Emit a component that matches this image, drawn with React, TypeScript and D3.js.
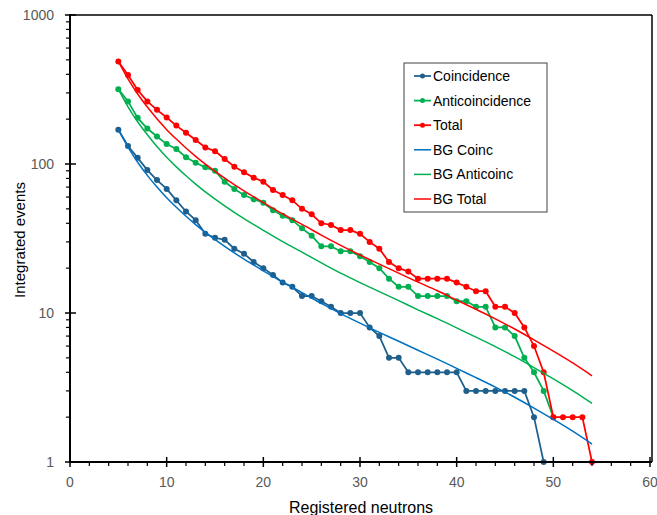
import React from "react";
import * as d3 from "d3";

const NEUTRONS = [5,6,7,8,9,10,11,12,13,14,15,16,17,18,19,20,21,22,23,24,25,26,27,28,29,30,31,32,33,34,35,36,37,38,39,40,41,42,43,44,45,46,47,48,49,50,51,52,53,54];

const COINCIDENCE = [170,132,110,91,78,68,57,48,42,34,32,31,27,25,22,20,18,16,15,13,13,12,11,10,10,10,8,7,5,5,4,4,4,4,4,4,3,3,3,3,3,3,3,2,1];
const ANTICOINCIDENCE = [318,263,204,173,153,136,126,111,102,95,90,76,68,62,58,55,49,45,42,37,33,28,28,26,26,24,22,20,17,15,15,13,13,13,13,12,12,11,11,8,8,7,5,4,3,2];
const TOTAL = [488,396,314,263,231,205,181,162,145,129,122,108,96,88,81,76,67,62,57,50,46,40,39,36,36,34,30,27,22,20,19,17,17,17,17,16,15,14,14,11,11,10,8,6,4,2,2,2,2,1];

const BG_X = [5,6,7,8,9,10,11,12,13,14,16,18,20,22,24,26,28,30,32,34,36,38,40,42,44,46,48,50,52,54];
const BG_COINC = [170,129.6,102.8,83.9,70.0,59.4,51.2,44.6,39.2,34.8,28.0,23.0,19.2,16.1,13.7,11.6,9.91,8.55,7.41,6.46,5.62,4.90,4.25,3.68,3.18,2.72,2.30,1.93,1.61,1.32];
const BG_ANTICOINC = [318,242,192,157,131,111,95.7,83.4,73.3,65.1,52.4,43.0,35.9,30.1,25.6,21.7,18.5,16.0,13.9,12.1,10.5,9.16,7.95,6.88,5.95,5.09,4.30,3.61,3.01,2.47];
const BG_TOTAL = [488,372,295,241,201,170,147,128,112.5,99.9,80.4,66.0,55.1,46.2,39.3,33.3,28.4,24.5,21.3,18.5,16.1,14.1,12.2,10.6,9.13,7.81,6.60,5.54,4.62,3.79];

const X_TICKS = [0,10,20,30,40,50,60];
const X_MINOR = [2,4,6,8,12,14,16,18,22,24,26,28,32,34,36,38,42,44,46,48,52,54,56,58];
const Y_TICKS = [1,10,100,1000];

const LEGEND = [
  { name: "Coincidence", color: "#1f5f8c", marker: true },
  { name: "Anticoincidence", color: "#00b050", marker: true },
  { name: "Total", color: "#ff0000", marker: true },
  { name: "BG Coinc", color: "#0070c0", marker: false },
  { name: "BG Anticoinc", color: "#00b050", marker: false },
  { name: "BG Total", color: "#ff0000", marker: false },
];

const FONT = "'Liberation Sans', Arial, sans-serif";

export default function App() {
  const x = d3.scaleLinear().domain([0, 60]).range([70, 650]);
  const y = d3.scaleLog().domain([1, 1000]).range([462, 15]);

  const dataLine = d3.line<[number, number]>().x(d => x(d[0])).y(d => y(d[1]));
  const bgLine = d3.line<[number, number]>().x(d => x(d[0])).y(d => y(d[1])).curve(d3.curveNatural);

  const series = [
    { vals: COINCIDENCE, color: LEGEND[0].color },
    { vals: ANTICOINCIDENCE, color: LEGEND[1].color },
    { vals: TOTAL, color: LEGEND[2].color },
  ].map(s => ({ ...s, pts: s.vals.map((v, i) => [NEUTRONS[i], v] as [number, number]) }));

  const bgs = [
    { vals: BG_COINC, color: LEGEND[3].color },
    { vals: BG_ANTICOINC, color: LEGEND[4].color },
    { vals: BG_TOTAL, color: LEGEND[5].color },
  ].map(s => ({ ...s, pts: s.vals.map((v, i) => [BG_X[i], v] as [number, number]) }));

  const yMinor: number[] = [];
  [1, 10, 100].forEach(d => { for (let k = 2; k <= 9; k++) yMinor.push(d * k); });

  const lx = 404, ly = 63;

  return (
    <svg width={657} height={515} style={{ position: "absolute", left: 0, top: 0, background: "#fff" }} fontFamily={FONT}>
      <rect x={0} y={0} width={657} height={515} fill="#fff" />
      {/* frame */}
      <line x1={70} x2={652} y1={15} y2={15} stroke="#000" strokeWidth={1.5} />
      <line x1={652} x2={652} y1={15} y2={462} stroke="#000" strokeWidth={1.5} />

      {/* series */}
      {series.map((s, i) => (
        <g key={"s" + i}>
          <path d={dataLine(s.pts) || ""} fill="none" stroke={s.color} strokeWidth={1.75} />
          {s.pts.map((p, j) => (
            <circle key={j} cx={x(p[0])} cy={y(p[1])} r={3} fill={s.color} />
          ))}
        </g>
      ))}
      {bgs.map((s, i) => (
        <path key={"b" + i} d={bgLine(s.pts) || ""} fill="none" stroke={s.color} strokeWidth={1.5} />
      ))}

      {/* axes */}
      <line x1={70} x2={70} y1={14} y2={463} stroke="#000" strokeWidth={2} />
      <line x1={69} x2={652} y1={462} y2={462} stroke="#000" strokeWidth={2} />
      {X_TICKS.map(t => (
        <g key={"xt" + t}>
          <line x1={x(t)} x2={x(t)} y1={457} y2={467} stroke="#000" strokeWidth={1.5} />
          <text x={x(t)} y={487} textAnchor="middle" fontSize={14} fill="#595959">{t}</text>
        </g>
      ))}
      {X_MINOR.map(t => (
        <line key={"xm" + t} x1={x(t)} x2={x(t)} y1={462} y2={466} stroke="#000" strokeWidth={1.2} />
      ))}
      {Y_TICKS.map(t => (
        <g key={"yt" + t}>
          <line x1={65} x2={76} y1={y(t)} y2={y(t)} stroke="#000" strokeWidth={1.5} />
          <text x={54} y={y(t) + 5} textAnchor="end" fontSize={14} fill="#595959">{t}</text>
        </g>
      ))}
      {yMinor.map(t => (
        <line key={"ym" + t} x1={66} x2={70} y1={y(t)} y2={y(t)} stroke="#000" strokeWidth={1.2} />
      ))}

      {/* titles */}
      <text x={361} y={513} textAnchor="middle" fontSize={16} fill="#000">Registered neutrons</text>
      <text transform="translate(25,240) rotate(-90)" textAnchor="middle" fontSize={15} fill="#000">Integrated events</text>

      {/* legend */}
      <rect x={lx} y={ly} width={143} height={149} fill="#fff" stroke="#404040" strokeWidth={1} />
      {LEGEND.map((l, i) => {
        const cy = 76 + i * 24.6;
        return (
          <g key={"l" + i}>
            <line x1={414} x2={431} y1={cy} y2={cy} stroke={l.color} strokeWidth={l.marker ? 1.75 : 1.5} />
            {l.marker && <circle cx={422.5} cy={cy} r={2.5} fill={l.color} />}
            <text x={433} y={cy + 5} fontSize={14} fill="#000">{l.name}</text>
          </g>
        );
      })}
    </svg>
  );
}
